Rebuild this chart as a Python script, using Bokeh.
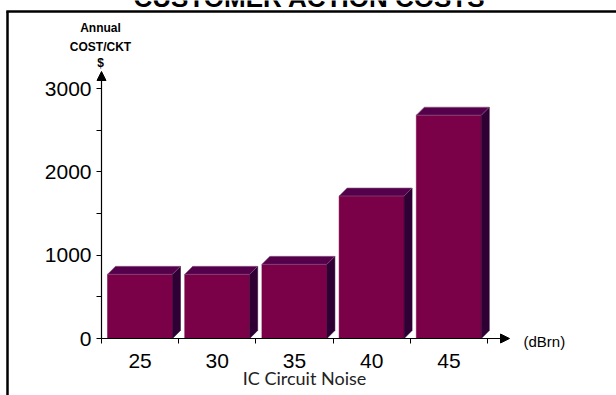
from bokeh.plotting import figure
from bokeh.models import (ColumnDataSource, FixedTicker, Range1d, Arrow, NormalHead,
                          Label, LinearAxis)
from bokeh.embed import file_html
from bokeh.resources import INLINE

# ---- data ----
categories = ["25", "30", "35", "40", "45"]
costs = [770, 770, 890, 1710, 2680]
y_ticks = [0, 1000, 2000, 3000]
y_minor = [500, 1500, 2500]
title_text = "CUSTOMER ACTION COSTS"
x_title = "IC Circuit Noise"
x_unit = "(dBrn)"
y_title = ["Annual", "COST/CKT", "$"]

# ---- layout (pixels) ----
W, H = 616, 395
X0, Y0 = 101, 338          # axis origin in pixels
PX_X = 77.2                # pixels per category
PX_Y = 1000 / 83.33        # data units per pixel in y

def dx(px):  # pixel offset -> x data
    return px / PX_X

def dy(px):  # pixel offset -> y data
    return px * PX_Y

def xp(px):  # absolute pixel -> x data
    return (px - X0) / PX_X

def yp(py):  # absolute pixel -> y data
    return (Y0 - py) * PX_Y

p = figure(width=W, height=H, output_backend="svg", toolbar_location=None,
           x_axis_type=None, y_axis_type=None,
           x_range=Range1d(xp(0), xp(W)), y_range=Range1d(yp(H), yp(0)),
           min_border=0)
p.outline_line_color = None
p.grid.visible = False
p.background_fill_color = "white"
p.border_fill_color = "white"

FONT = "Liberation Sans"

# y axis
yax = LinearAxis(ticker=FixedTicker(ticks=y_ticks, minor_ticks=y_minor),
                 fixed_location=0)
yax.axis_line_color = None
yax.major_tick_out = 5
yax.major_tick_in = 0
yax.minor_tick_out = 5
yax.minor_tick_in = 0
yax.major_tick_line_color = "black"
yax.minor_tick_line_color = "black"
yax.major_label_standoff = 5
yax.major_label_text_font = FONT
yax.major_label_text_font_size = "21px"
yax.major_label_text_color = "black"
p.add_layout(yax, "left")

# x axis
centers = [i + 0.5 for i in range(len(categories))]
xax = LinearAxis(ticker=FixedTicker(ticks=centers,
                                    minor_ticks=list(range(len(categories) + 1))),
                 fixed_location=0)
xax.major_label_overrides = {c: lab for c, lab in zip(centers, categories)}
xax.axis_line_color = None
xax.major_tick_out = 0
xax.major_tick_in = 0
xax.minor_tick_out = 5
xax.minor_tick_in = 0
xax.minor_tick_line_color = "black"
xax.major_label_standoff = 10
xax.major_label_text_font = FONT
xax.major_label_text_font_size = "21px"
xax.major_label_text_color = "black"
p.add_layout(xax, "below")

# 3D bars
FRONT, TOP, SIDE = "#7a0047", "#54004a", "#2e0033"
OX, OY = dx(8), dy(8)
lefts = [i + dx(6) for i in range(len(categories))]
rights = [i + dx(71) for i in range(len(categories))]
src = ColumnDataSource(dict(left=lefts, right=rights, top=costs,
                            bottom=[0] * len(costs)))
p.quad(left="left", right="right", top="top", bottom="bottom", source=src,
       fill_color=FRONT, line_color=FRONT, line_width=0.5)
side_xs = [[r, r + OX, r + OX, r] for r in rights]
side_ys = [[0, OY, v + OY, v] for v in costs]
p.patches(side_xs, side_ys, fill_color=SIDE, line_color=SIDE, line_width=0.5)
top_xs = [[l, l + OX, r + OX, r] for l, r in zip(lefts, rights)]
top_ys = [[v, v + OY, v + OY, v] for v in costs]
p.patches(top_xs, top_ys, fill_color=TOP, line_color="#8a5a80", line_width=0.6)

# axis lines with arrow heads
p.add_layout(Arrow(x_start=0, y_start=0, x_end=0, y_end=yp(71),
                   line_color="black", line_width=1.2,
                   end=NormalHead(size=9, fill_color="black", line_color="black",
                                  line_width=1)))
p.add_layout(Arrow(x_start=0, y_start=0, x_end=xp(509), y_end=0,
                   line_color="black", line_width=1.2,
                   end=NormalHead(size=9, fill_color="black", line_color="black",
                                  line_width=1)))

# texts
p.add_layout(Label(x=xp(309), y=yp(-3), text=title_text, text_font=FONT,
                   text_font_style="bold", text_font_size="26px",
                   text_align="center", text_baseline="alphabetic",
                   text_color="black"))
for t, py in zip(y_title, [27, 46, 62]):
    p.add_layout(Label(x=xp(100), y=yp(py), text=t, text_font=FONT,
                       text_font_style="bold", text_font_size="12px",
                       text_align="center", text_baseline="alphabetic",
                       text_color="black"))
p.add_layout(Label(x=xp(523), y=yp(341), text=x_unit, text_font=FONT,
                   text_font_size="15px", text_align="left",
                   text_baseline="middle", text_color="black"))
p.add_layout(Label(x=xp(304), y=yp(377), text=x_title, text_font="Lato",
                   text_font_size="18px", text_align="center",
                   text_baseline="alphabetic", text_color="#222222"))

# frame border lines (left and top)
p.add_layout(Arrow(x_start=xp(7), y_start=yp(11), x_end=xp(7), y_end=yp(400),
                   end=None, line_color="black", line_width=2.5))
p.add_layout(Arrow(x_start=xp(5.8), y_start=yp(11), x_end=xp(620), y_end=yp(11),
                   end=None, line_color="black", line_width=2.5))

open("out.html", "w").write(file_html(p, INLINE))
